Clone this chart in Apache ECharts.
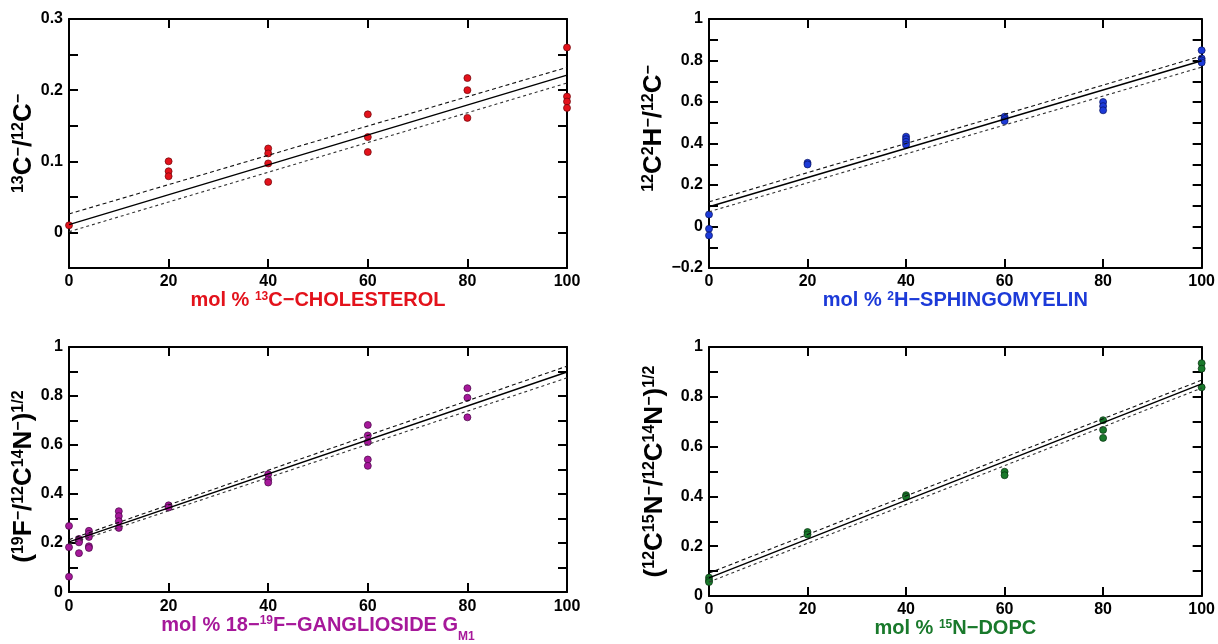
<!DOCTYPE html>
<html>
<head>
<meta charset="utf-8">
<script src="https://cdn.jsdelivr.net/npm/echarts@6/dist/echarts.min.js"></script>
<style>
  html, body { margin: 0; padding: 0; background: #fff; }
  #chart { width: 1218px; height: 644px; }
</style>
</head>
<body>
<div id="chart"></div>
<script>
// ---- measured isotope ratios vs. labelled-lipid content (mol %) ----
const cholX = [0, 20, 20, 20, 40, 40, 40, 40, 60, 60, 60, 80, 80, 80, 100, 100, 100, 100];
const cholY = [0.010, 0.100, 0.086, 0.079, 0.118, 0.111, 0.097, 0.071, 0.166, 0.134, 0.113, 0.217, 0.200, 0.161, 0.260, 0.191, 0.184, 0.175];

const smX = [0, 0, 0, 20, 20, 40, 40, 40, 40, 60, 60, 60, 80, 80, 80, 100, 100, 100, 100];
const smY = [0.058, -0.011, -0.043, 0.307, 0.299, 0.433, 0.421, 0.408, 0.394, 0.529, 0.518, 0.508, 0.600, 0.580, 0.560, 0.849, 0.810, 0.800, 0.790];

const gmX = [0, 0, 0, 2, 2, 2, 2, 4, 4, 4, 4, 4, 10, 10, 10, 10, 20, 20, 40, 40, 40, 60, 60, 60, 60, 60, 80, 80, 80];
const gmY = [0.270, 0.183, 0.063, 0.217, 0.210, 0.203, 0.159, 0.250, 0.238, 0.225, 0.187, 0.180, 0.330, 0.310, 0.289, 0.262, 0.354, 0.345, 0.481, 0.459, 0.447, 0.682, 0.639, 0.612, 0.541, 0.515, 0.832, 0.793, 0.713];

const dopcX = [0, 0, 0, 20, 20, 40, 40, 60, 60, 80, 80, 80, 100, 100, 100];
const dopcY = [0.074, 0.063, 0.056, 0.257, 0.247, 0.405, 0.398, 0.499, 0.485, 0.706, 0.667, 0.635, 0.935, 0.913, 0.838];

// linear fits with confidence bands, evaluated at the ends of the range
const fitX = [0, 100];
const cholFit = [0.011, 0.221], cholUpper = [0.026, 0.232], cholLower = [0.001, 0.210];
const smFit = [0.095, 0.799], smUpper = [0.119, 0.822], smLower = [0.071, 0.768];
const gmFit = [0.205, 0.898], gmUpper = [0.214, 0.922], gmLower = [0.196, 0.874];
const dopcFit = [0.073, 0.852], dopcUpper = [0.092, 0.867], dopcLower = [0.056, 0.835];

// labelled tick values
const xTicks = [0, 20, 40, 60, 80, 100];
const cholYTicks = [0, 0.1, 0.2, 0.3];
const wideYTicks = [-0.2, 0, 0.2, 0.4, 0.6, 0.8, 1];
const unitYTicks = [0, 0.2, 0.4, 0.6, 0.8, 1];

const FONT = '"Liberation Sans", Arial, Helvetica, sans-serif';

function tickFormatter(list) {
  return function (v) {
    const hit = list.find(t => Math.abs(t - v) < 1e-6);
    if (hit === undefined) return '';
    return String(hit).replace('-', '\u2212');
  };
}

// b: body text, s: superscript, u: subscript (all top-anchored in the line box)
function richStyles(color, big) {
  const small = Math.round(big * 0.62);
  return {
    b: { fontFamily: FONT, fontWeight: 'bold', fontSize: big, color: color,
         lineHeight: big + 6, verticalAlign: 'top' },
    s: { fontFamily: FONT, fontWeight: 'bold', fontSize: small, color: color,
         lineHeight: small, verticalAlign: 'top' },
    u: { fontFamily: FONT, fontWeight: 'bold', fontSize: small, color: color,
         lineHeight: small, verticalAlign: 'top', padding: [Math.round(big * 0.78), 0, 0, 0] }
  };
}

const panels = [
  { left: 69, top: 19, x: cholX, y: cholY, fit: cholFit, up: cholUpper, lo: cholLower,
    yMin: -0.05, yMax: 0.3, yStep: 0.05, yTicks: cholYTicks, color: '#e3121b', edge: '#6a0508',
    yName: '{s|13}{b|C}{s|\u2212}{b|/}{s|12}{b|C}{s|\u2212}', yGap: 26, yPad: 0, xGap: 20,
    xName: '{b|mol % }{s|13}{b|C\u2212CHOLESTEROL}' },
  { left: 709, top: 19, x: smX, y: smY, fit: smFit, up: smUpper, lo: smLower,
    yMin: -0.2, yMax: 1, yStep: 0.1, yTicks: wideYTicks, color: '#1c3ad8', edge: '#08125e',
    yName: '{s|12}{b|C}{s|2}{b|H}{s|\u2212}{b|/}{s|12}{b|C}{s|\u2212}', yGap: 36, yPad: 30, xGap: 20,
    xName: '{b|mol % }{s|2}{b|H\u2212SPHINGOMYELIN}' },
  { left: 69, top: 347, x: gmX, y: gmY, fit: gmFit, up: gmUpper, lo: gmLower,
    yMin: 0, yMax: 1, yStep: 0.1, yTicks: unitYTicks, color: '#a6189a', edge: '#420640',
    yName: '{b|(}{s|19}{b|F}{s|\u2212}{b|/}{s|12}{b|C}{s|14}{b|N}{s|\u2212}{b|)}{s|1/2}', yGap: 20, yPad: -14, xGap: 18,
    xName: '{b|mol % 18\u2212}{s|19}{b|F\u2212GANGLIOSIDE G}{u|M1}' },
  { left: 709, top: 347, x: dopcX, y: dopcY, fit: dopcFit, up: dopcUpper, lo: dopcLower,
    yMin: 0, yMax: 1, yStep: 0.1, yTicks: unitYTicks, color: '#19792b', edge: '#073010',
    yName: '{b|(}{s|12}{b|C}{s|15}{b|N}{s|\u2212}{b|/}{s|12}{b|C}{s|14}{b|N}{s|\u2212}{b|)}{s|1/2}', yGap: 35, yPad: 0, xGap: 18,
    xName: '{b|mol % }{s|15}{b|N\u2212DOPC}' }
];

const axisLine = { show: true, onZero: false, lineStyle: { color: '#000', width: 2 } };
const axisTick = { show: true, inside: true, length: 9, lineStyle: { color: '#000', width: 2 } };
const labelStyle = { color: '#000', fontFamily: FONT, fontWeight: 'bold', fontSize: 16 };

const grid = [], xAxis = [], yAxis = [], series = [];

panels.forEach((p, i) => {
  grid.push({ left: p.left, top: p.top, width: 498, height: 249, containLabel: false });

  xAxis.push({
    type: 'value', gridIndex: i, position: 'bottom', min: 0, max: 100, interval: 20,
    axisLine, axisTick, splitLine: { show: false },
    axisLabel: Object.assign({ margin: 6, formatter: tickFormatter(xTicks) }, labelStyle),
    name: p.xName, nameLocation: 'middle', nameGap: p.xGap,
    nameTextStyle: { rich: richStyles(p.color, 20) }
  });
  xAxis.push({
    type: 'value', gridIndex: i, position: 'top', min: 0, max: 100, interval: 20,
    axisLine, axisTick, splitLine: { show: false }, axisLabel: { show: false }
  });

  const pad = p.yPad >= 0 ? [0, 0, 0, p.yPad] : [0, -p.yPad, 0, 0];
  yAxis.push({
    type: 'value', gridIndex: i, position: 'left', min: p.yMin, max: p.yMax, interval: p.yStep,
    axisLine, axisTick, splitLine: { show: false },
    axisLabel: Object.assign({ margin: 6, formatter: tickFormatter(p.yTicks) }, labelStyle),
    name: p.yName, nameLocation: 'middle', nameRotate: 90, nameGap: p.yGap,
    nameTextStyle: { rich: richStyles('#000', 26), padding: pad }
  });
  yAxis.push({
    type: 'value', gridIndex: i, position: 'right', min: p.yMin, max: p.yMax, interval: p.yStep,
    axisLine, axisTick, splitLine: { show: false }, axisLabel: { show: false }
  });

  const xi = 2 * i, yi = 2 * i;
  series.push({
    type: 'scatter', xAxisIndex: xi, yAxisIndex: yi, clip: false, z: 2,
    symbol: 'circle', symbolSize: 7,
    itemStyle: { color: p.color, borderColor: p.edge, borderWidth: 0.7, opacity: 1 },
    data: p.x.map((v, k) => [v, p.y[k]])
  });
  const band = (vals, type, width, color) => ({
    type: 'line', xAxisIndex: xi, yAxisIndex: yi, z: 3, symbol: 'none',
    lineStyle: { color, width, type },
    data: fitX.map((v, k) => [v, vals[k]])
  });
  series.push(band(p.fit, 'solid', 1.4, '#000'));
  series.push(band(p.up, [4, 3], 1.1, '#111'));
  series.push(band(p.lo, [3, 3], 1.1, '#333'));
});

const chart = echarts.init(document.getElementById('chart'), null, { renderer: 'canvas' });
chart.setOption({
  animation: false,
  backgroundColor: '#fff',
  grid, xAxis, yAxis, series
});
</script>
</body>
</html>
